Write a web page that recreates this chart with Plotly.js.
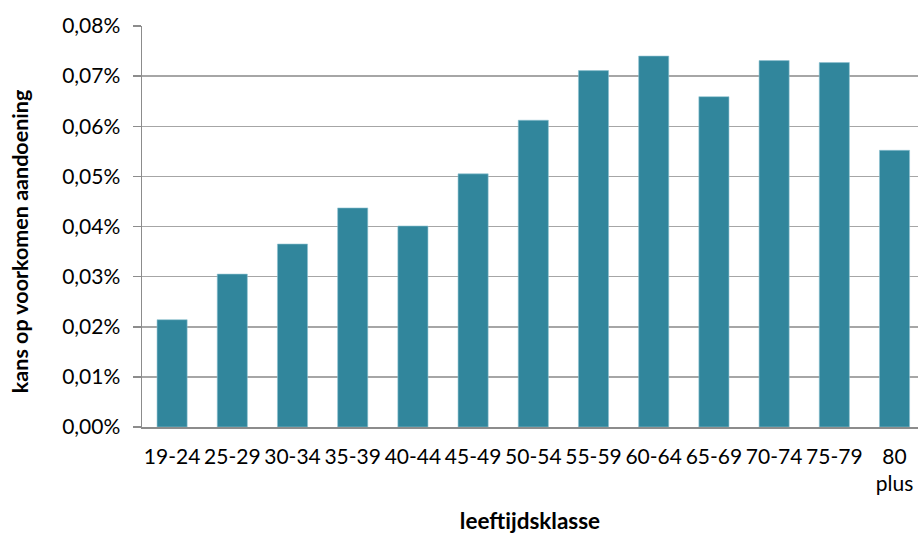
<!DOCTYPE html>
<html>
<head>
<meta charset="utf-8">
<script src="https://cdn.plot.ly/plotly-3.0.1.min.js"></script>
<style>html,body{margin:0;padding:0;background:#fff;}#chart{width:918px;height:534px;}</style>
</head>
<body>
<div id="chart"></div>
<script>
const categories = ["19-24","25-29","30-34","35-39","40-44","45-49","50-54","55-59","60-64","65-69","70-74","75-79","80<br>plus"];
const kansPct = [0.0214,0.0305,0.0365,0.0437,0.0401,0.0505,0.0612,0.0711,0.0740,0.0659,0.0731,0.0727,0.0552];
const yTickVals = [0,0.01,0.02,0.03,0.04,0.05,0.06,0.07,0.08];
const yTickText = ["0,00%","0,01%","0,02%","0,03%","0,04%","0,05%","0,06%","0,07%","0,08%"];
const yTitle = "kans op voorkomen aandoening";
const xTitle = "leeftijdsklasse";

const font = "Lato, 'Open Sans', sans-serif";
Plotly.newPlot("chart", [{
  type: "bar",
  x: categories,
  y: kansPct,
  marker: {color: "#31869c", line: {color: "#8fc3d1", width: 0.6}},
  width: 0.5,
  hoverinfo: "skip"
}], {
  width: 918, height: 534,
  margin: {l: 142, r: 0, t: 26, b: 107},
  paper_bgcolor: "#fff", plot_bgcolor: "#fff",
  showlegend: false,
  font: {family: font, size: 21, color: "#000"},
  xaxis: {
    type: "category",
    range: [-0.5, 12.39],
    showgrid: false,
    showline: true, linecolor: "#8c8c8c", linewidth: 1.5,
    ticks: "", ticklabelstandoff: 10,
    tickfont: {family: font, size: 21, color: "#000"},
    title: {text: "<b>" + xTitle + "</b>", font: {family: font, size: 22.5, color: "#000"}, standoff: 22}
  },
  yaxis: {
    range: [0, 0.08],
    tickvals: yTickVals,
    ticktext: yTickText,
    showgrid: true, gridcolor: "#a6a6a6", gridwidth: 1.5,
    showline: true, linecolor: "#8c8c8c", linewidth: 1.5,
    ticks: "outside", ticklen: 8, tickcolor: "#8c8c8c", tickwidth: 1.5,
    ticklabelstandoff: 8,
    zeroline: false,
    tickfont: {family: font, size: 21, color: "#000"}
  },
  annotations: [{
    text: "<b>" + yTitle + "</b>",
    xref: "paper", yref: "paper",
    x: 0, y: 0.461, xshift: -122,
    xanchor: "center", yanchor: "middle",
    textangle: -90, showarrow: false,
    font: {family: font, size: 21.5, color: "#000"}
  }]
}, {displayModeBar: false, staticPlot: true});
</script>
</body>
</html>
